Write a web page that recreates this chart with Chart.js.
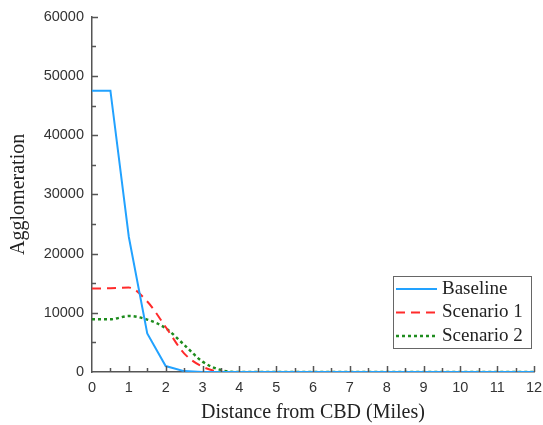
<!DOCTYPE html>
<html>
<head>
<meta charset="utf-8">
<script src="https://cdn.jsdelivr.net/npm/chart.js@4"></script>
<style>
  html, body { margin: 0; padding: 0; background: #fff; }
  #wrap { width: 543px; height: 425px; }
</style>
</head>
<body>
<div id="wrap"><canvas id="aggChart" width="543" height="425"></canvas></div>
<script>
// Distance from CBD (miles), sampled every half mile
const distance = [0, 0.5, 1, 1.5, 2, 2.5, 3, 3.5, 4, 4.5, 5, 5.5, 6, 6.5, 7, 7.5, 8, 8.5, 9, 9.5, 10, 10.5, 11, 11.5, 12];

const baseline = [47500, 47500, 22800, 6500, 1000, 150, 0, 0, 0, 0, 0, 0, 0, 0, 0, 0, 0, 0, 0, 0, 0, 0, 0, 0, 0];
const scenario1 = [14100, 14150, 14250, 11900, 7600, 3150, 900, 60, 0, 0, 0, 0, 0, 0, 0, 0, 0, 0, 0, 0, 0, 0, 0, 0, 0];
const scenario2 = [8900, 8900, 9450, 8850, 7400, 4600, 1750, 330, 0, 0, 0, 0, 0, 0, 0, 0, 0, 0, 0, 0, 0, 0, 0, 0, 0];

const seriesNames = ["Baseline", "Scenario 1", "Scenario 2"];

const xTicks = { min: 0, max: 12, step: 0.5 };
const yTicks = { min: 0, max: 60000, step: 5000 };

const AXIS_COLOR = "#555";
const SANS = "'Liberation Sans', Arial, sans-serif";
const SERIF = "'Liberation Serif', 'Times New Roman', serif";

function toPoints(values) {
  return values.map((v, i) => ({ x: distance[i], y: v }));
}

// Inward major/minor tick marks (Chart.js only draws outward ones)
const inwardTicks = {
  id: "inwardTicks",
  afterDraw(chart) {
    const { ctx, scales: { x, y } } = chart;
    ctx.save();
    ctx.strokeStyle = AXIS_COLOR;
    ctx.lineWidth = 1.5;
    ctx.beginPath();
    x.ticks.forEach(t => {
      const px = Math.round(x.getPixelForValue(t.value)) + 0.5;
      const len = Number.isInteger(t.value) ? 6 : 4;
      if (t.value === 0) return;
      ctx.moveTo(px, y.bottom);
      ctx.lineTo(px, y.bottom - len);
    });
    y.ticks.forEach(t => {
      const py = Math.round(y.getPixelForValue(t.value)) + 0.5;
      const len = t.value % 10000 === 0 ? 6 : 4;
      if (t.value === 0) return;
      ctx.moveTo(x.left, py);
      ctx.lineTo(x.left + len, py);
    });
    ctx.stroke();
    ctx.restore();
  }
};

// Boxed legend sitting in the lower right of the plot
const boxLegend = {
  id: "boxLegend",
  afterDraw(chart) {
    const { ctx } = chart;
    const left = 393, top = 276, w = 138, h = 72;
    const rowH = 23.5;
    ctx.save();
    ctx.fillStyle = "#fff";
    ctx.fillRect(left, top, w, h);
    ctx.strokeStyle = "#666";
    ctx.lineWidth = 1;
    ctx.strokeRect(left + 0.5, top + 0.5, w, h);
    ctx.font = "19px " + SERIF;
    ctx.textBaseline = "middle";
    chart.data.datasets.forEach((ds, i) => {
      const cy = top + 13 + i * rowH;
      ctx.strokeStyle = ds.borderColor;
      ctx.lineWidth = ds.borderWidth;
      ctx.setLineDash(ds.borderDash || []);
      ctx.beginPath();
      ctx.moveTo(left + 3, cy);
      ctx.lineTo(left + 44, cy);
      ctx.stroke();
      ctx.setLineDash([]);
      ctx.fillStyle = "#222";
      ctx.fillText(ds.label, left + 49, cy);
    });
    ctx.restore();
  }
};

const ctx = document.getElementById("aggChart").getContext("2d");

new Chart(ctx, {
  type: "scatter",
  data: {
    datasets: [
      {
        label: seriesNames[0],
        data: toPoints(baseline),
        borderColor: "#22A2FF",
        backgroundColor: "#22A2FF",
        borderWidth: 2,
        showLine: true,
        pointRadius: 0
      },
      {
        label: seriesNames[1],
        data: toPoints(scenario1),
        borderColor: "#FF2B2B",
        backgroundColor: "#FF2B2B",
        borderWidth: 2,
        borderDash: [9, 6],
        showLine: true,
        pointRadius: 0,
        cubicInterpolationMode: "monotone"
      },
      {
        label: seriesNames[2],
        data: toPoints(scenario2),
        borderColor: "#1E8C1E",
        backgroundColor: "#1E8C1E",
        borderWidth: 2.5,
        borderDash: [3, 3],
        showLine: true,
        pointRadius: 0,
        cubicInterpolationMode: "monotone"
      }
    ]
  },
  options: {
    responsive: false,
    animation: false,
    layout: { padding: { top: 16, right: 2, left: 0, bottom: 0 } },
    scales: {
      x: {
        type: "linear",
        min: xTicks.min,
        max: xTicks.max,
        afterFit: s => { s.height = 53; s.paddingRight = 9; },
        border: { color: AXIS_COLOR, width: 1.5 },
        grid: { drawOnChartArea: false, drawTicks: false, color: AXIS_COLOR },
        ticks: {
          stepSize: xTicks.step,
          autoSkip: false,
          maxRotation: 0,
          padding: 7,
          color: "#333",
          font: { family: SANS, size: 14.5 },
          callback: v => (Number.isInteger(v) ? String(v) : "")
        },
        title: {
          display: true,
          text: "Distance from CBD (Miles)",
          color: "#222",
          font: { family: SERIF, size: 20 },
          padding: { top: 4, bottom: 0 }
        }
      },
      y: {
        min: yTicks.min,
        max: yTicks.max,
        afterFit: s => { s.width = 92; },
        border: { color: AXIS_COLOR, width: 1.5 },
        grid: { drawOnChartArea: false, drawTicks: false, color: AXIS_COLOR },
        ticks: {
          stepSize: yTicks.step,
          autoSkip: false,
          padding: 8,
          color: "#333",
          font: { family: SANS, size: 14.5 },
          callback: v => (v % 10000 === 0 ? String(v) : "")
        },
        title: {
          display: true,
          text: "Agglomeration",
          color: "#222",
          font: { family: SERIF, size: 20 },
          padding: { top: 7, bottom: 0 }
        }
      }
    },
    plugins: {
      legend: { display: false },
      tooltip: { enabled: false }
    }
  },
  plugins: [inwardTicks, boxLegend]
});
</script>
</body>
</html>
